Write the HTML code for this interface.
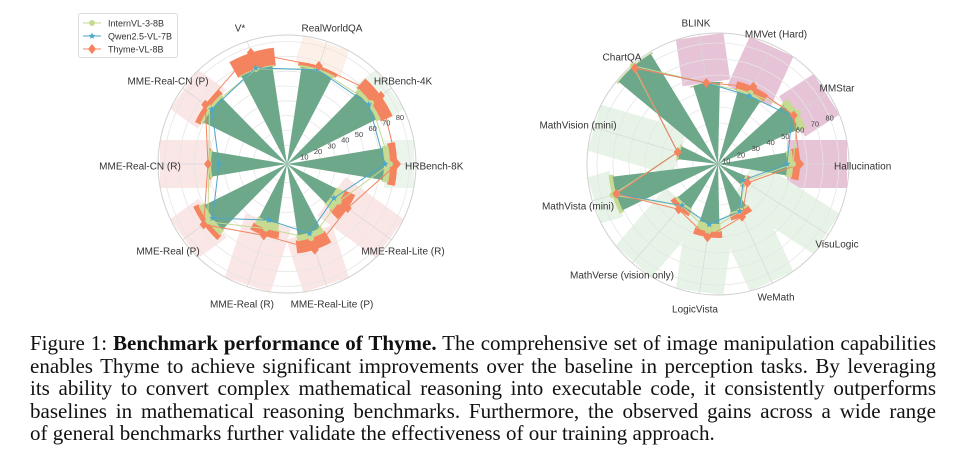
<!DOCTYPE html>
<html><head><meta charset="utf-8">
<style>
html,body{margin:0;padding:0;background:#fff;width:962px;height:457px;overflow:hidden}
#cap{position:absolute;left:30px;top:332px;width:906px;font-family:"Liberation Serif",serif;font-size:21px;line-height:22.5px;color:#111}
#cap div{text-align:justify;text-align-last:justify;white-space:nowrap}
#cap div.l{text-align-last:left}
svg{position:absolute;left:0;top:0}
</style></head><body>
<svg id="s" width="962" height="330" xmlns="http://www.w3.org/2000/svg" font-family="Liberation Sans, sans-serif"></svg>
<div id="cap">
<div>Figure 1: <b>Benchmark performance of Thyme.</b> The comprehensive set of image manipulation capabilities</div>
<div>enables Thyme to achieve significant improvements over the baseline in perception tasks. By leveraging</div>
<div>its ability to convert complex mathematical reasoning into executable code, it consistently outperforms</div>
<div>baselines in mathematical reasoning benchmarks. Furthermore, the observed gains across a wide range</div>
<div class="l">of general benchmarks further validate the effectiveness of our training approach.</div>
</div>
<script>
var s=document.getElementById('s'),out='';
function P(cx,cy,r,a){a=a*Math.PI/180;return [cx+r*Math.cos(a),cy-r*Math.sin(a)];}
function wedge(cx,cy,r0,r1,a,h,fill,op){
 if(r1<=r0)return;
 var p1=P(cx,cy,r1,a-h),p2=P(cx,cy,r1,a+h),p3=P(cx,cy,r0,a+h),p4=P(cx,cy,r0,a-h);
 out+='<path d="M'+p4+' L'+p1+' A'+r1+' '+r1+' 0 0 0 '+p2+' L'+p3+(r0>0?' A'+r0+' '+r0+' 0 0 1 '+p4:'')+' Z" fill="'+fill+'"'+(op?' opacity="'+op+'"':'')+'/>';}
function rect(cx,cy,r0,r1,a,w,fill){
 var ar=a*Math.PI/180,dx=Math.cos(ar),dy=-Math.sin(ar),nx=-dy,ny=dx;
 var pts=[[cx+dx*r0+nx*w,cy+dy*r0+ny*w],[cx+dx*r1+nx*w,cy+dy*r1+ny*w],[cx+dx*r1-nx*w,cy+dy*r1-ny*w],[cx+dx*r0-nx*w,cy+dy*r0-ny*w]];
 out+='<polygon points="'+pts.join(' ')+'" fill="'+fill+'"/>';}
function star(x,y,r,c){var p=[];for(var i=0;i<10;i++){var rr=i%2?r*0.45:r,a=(-90+36*i)*Math.PI/180;p.push([x+rr*Math.cos(a),y+rr*Math.sin(a)]);}out+='<polygon points="'+p.join(' ')+'" fill="'+c+'"/>';}
function chart(cx,cy,R,grid,tickR,ticks,cats,h){
 out+='<circle cx="'+cx+'" cy="'+cy+'" r="'+R+'" fill="#fff"/>';
 cats.forEach(function(c){if(c.bg)rect(cx,cy,c.g,R-2,c.a,24,c.bg);});
 grid.forEach(function(r){out+='<circle cx="'+cx+'" cy="'+cy+'" r="'+r+'" fill="none" stroke="#e6e6e6" stroke-width="0.8"/>';});
 cats.forEach(function(c){var p=P(cx,cy,R,c.a);out+='<line x1="'+cx+'" y1="'+cy+'" x2="'+p[0]+'" y2="'+p[1]+'" stroke="#d8d8d8" stroke-width="0.7"/>';});
 out+='<circle cx="'+cx+'" cy="'+cy+'" r="'+R+'" fill="none" stroke="#d0d0d0" stroke-width="1"/>';
 cats.forEach(function(c){
  wedge(cx,cy,Math.max(c.g,c.i)-1,c.t,c.a,h+2,'#f4845f');
  wedge(cx,cy,c.g-1,c.i,c.a,h+1,'#c6da92');
  wedge(cx,cy,0,c.g,c.a,h,'#6da88b');
 });
 var ser=[['i','#c6da92'],['q','#4ea6c8'],['t','#f4845f']];
 ser.forEach(function(sv){var pts=cats.map(function(c){return P(cx,cy,c[sv[0]],c.a);});pts.push(pts[0]);
  out+='<polyline points="'+pts.join(' ')+'" fill="none" stroke="'+sv[1]+'" stroke-width="1"/>';});
 cats.forEach(function(c){var p=P(cx,cy,c.i,c.a);out+='<circle cx="'+p[0]+'" cy="'+p[1]+'" r="3" fill="#c6da92"/>';
  p=P(cx,cy,c.q,c.a);star(p[0],p[1],3.6,'#4ea6c8');
  p=P(cx,cy,c.t,c.a);out+='<polygon points="'+[p[0],p[1]-5,p[0]+4,p[1],p[0],p[1]+5,p[0]-4,p[1]].join(' ')+'" fill="#f4845f"/>';});
 ticks.forEach(function(t){var p=P(cx,cy,t[1],22.7);out+='<text x="'+p[0]+'" y="'+(p[1]+3)+'" font-size="7.5" fill="#444" text-anchor="middle">'+t[0]+'</text>';});
 cats.forEach(function(c){out+='<text x="'+c.lx+'" y="'+(c.ly+3.5)+'" font-size="10" fill="#333" text-anchor="'+(c.an||'middle')+'">'+c.n+'</text>';});
}
var pk='#fbe6e6',pe='#fdf0e8',lg='#ebf5eb';
var L=[
 {n:'HRBench-8K',a:0,g:97,i:103,t:110,q:98,bg:lg,lx:405,ly:166,an:'start'},
 {n:'HRBench-4K',a:36,g:100,i:104,t:116,q:101,bg:lg,lx:403,ly:81},
 {n:'RealWorldQA',a:72,g:98,i:100,t:103,q:99,bg:pe,lx:332,ly:28},
 {n:'V*',a:108,g:99,i:100,t:117,q:101,lx:240,ly:28},
 {n:'MME-Real-CN (P)',a:144,g:93,i:96,t:101,q:93,bg:pk,lx:168,ly:81},
 {n:'MME-Real-CN (R)',a:180,g:76,i:78,t:79,q:68,bg:pk,lx:140,ly:166},
 {n:'MME-Real (P)',a:216,g:92,i:98,t:103,q:92,bg:pk,lx:168,ly:251},
 {n:'MME-Real (R)',a:252,g:60,i:68,t:75,q:59,bg:pk,lx:242,ly:304},
 {n:'MME-Real-Lite (P)',a:288,g:72,i:78,t:90,q:73,bg:pk,lx:332,ly:304},
 {n:'MME-Real-Lite (R)',a:324,g:55,i:64,t:75,q:58,bg:pk,lx:403,ly:251}];
var lt=[],lgr=[];for(var v=10;v<=80;v+=10){var r=4+1.48*v;lt.push([v,r]);lgr.push(r);}
chart(287,164,129,lgr,0,lt,L,9.5);
var mp='#e6c3d6',mg='#e7f3e7',a=360/11;
var Rr=[
 {n:'Hallucination',g:69,i:75,t:82,q:69,bg:mp,lx:834,ly:166,an:'start'},
 {n:'MMStar',g:88,i:95,t:90,q:88,bg:mp,lx:837,ly:88},
 {n:'MMVet (Hard)',g:75,i:78,t:85,q:75,bg:mp,lx:776,ly:34},
 {n:'BLINK',g:82,i:82,t:82,q:82,bg:mp,lx:696,ly:23},
 {n:'ChartQA',g:129,i:130,t:127,q:127,bg:mp,lx:622,ly:57},
 {n:'MathVision (mini)',g:40,i:42,t:42,q:42,bg:mg,lx:578,ly:125},
 {n:'MathVista (mini)',g:106,i:110,t:106,q:106,bg:mg,lx:578,ly:206},
 {n:'MathVerse (vision only)',g:52,i:55,t:60,q:55,bg:mg,lx:622,ly:275},
 {n:'LogicVista',g:60,i:68,t:74,q:61,bg:mg,lx:695,ly:309},
 {n:'WeMath',g:50,i:52,t:58,q:52,bg:mg,lx:776,ly:297},
 {n:'VisuLogic',g:30,i:32,t:35,q:30,bg:mg,lx:837,ly:244}];
Rr.forEach(function(c,k){c.a=k*a;});
var rt=[],rg=[];for(var v=10;v<=80;v+=10){var r=1.6*v-7;rt.push([v,r]);rg.push(r);}
chart(718,164,131,rg,0,rt,Rr,9.5);
out+='<rect x="78.5" y="13.5" width="99" height="44" rx="2" fill="#fff" stroke="#ddd"/>';
var lgd=[['InternVL-3-8B','#c6da92','c'],['Qwen2.5-VL-7B','#4ea6c8','s'],['Thyme-VL-8B','#f4845f','d']];
lgd.forEach(function(e,k){var y=23+k*13;out+='<line x1="83" y1="'+y+'" x2="101" y2="'+y+'" stroke="'+e[1]+'" stroke-width="1"/>';
 if(e[2]=='c')out+='<circle cx="92" cy="'+y+'" r="3" fill="'+e[1]+'"/>';
 else if(e[2]=='s')star(92,y,3.5,e[1]);
 else out+='<polygon points="92,'+(y-5)+' 96,'+y+' 92,'+(y+5)+' 88,'+y+'" fill="'+e[1]+'"/>';
 out+='<text x="108" y="'+(y+3.3)+'" font-size="9" fill="#333">'+e[0]+'</text>';});
s.innerHTML=out;
</script>
</body></html>
